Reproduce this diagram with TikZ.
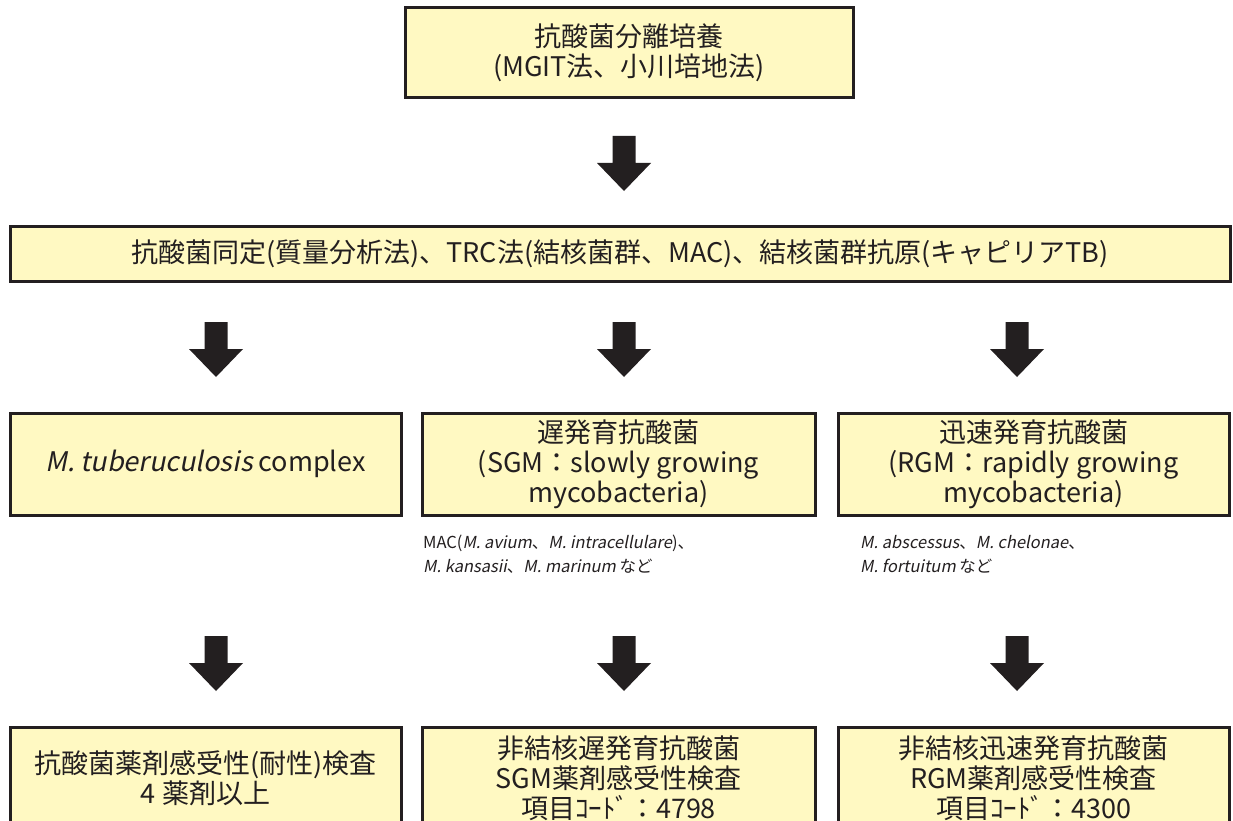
\documentclass[tikz,border=0pt]{standalone}
\usepackage{fontspec}
\setmainfont{Noto Sans CJK JP}
\newfontfamily\jpit{Noto Sans CJK JP}[FakeSlant=0.2]
\newcommand\spn[1]{{\jpit #1}}
\definecolor{boxfill}{RGB}{255,249,194}
\definecolor{ink}{RGB}{35,31,32}
\tikzset{
  flowbox/.style={draw=ink, line width=3pt, fill=boxfill, inner sep=0pt,
    align=center, text=ink, font=\fontsize{27}{30}\selectfont},
  note/.style={anchor=north west, inner sep=0pt, align=left, text=ink,
    font=\fontsize{16.5}{24}\selectfont},
  blockarrow/.pic={\fill[ink] (-11.5,0) -- (11.5,0) -- (11.5,27) -- (27,27)
    -- (0,55) -- (-27,27) -- (-11.5,27) -- cycle;}
}
\begin{document}
\begin{tikzpicture}[x=1pt,y=-1pt]
\useasboundingbox (0,0) rectangle (1233,821);
\clip (0,0) rectangle (1233,821);
% row 1
\node[flowbox, minimum width=448pt, minimum height=90pt] (culture) at (629,53)
  {抗酸菌分離培養\\(MGIT法、小川培地法)};
\pic (a1) at (624,136) {blockarrow};
% row 2
\node[flowbox, minimum width=1220pt, minimum height=55pt] (ident) at (620,253.5)
  {抗酸菌同定(質量分析法)、TRC法(結核菌群、MAC)、結核菌群抗原(キャピリアTB)};
\pic (a2) at (216,322) {blockarrow};
\pic (a3) at (624,322) {blockarrow};
\pic (a4) at (1017,322) {blockarrow};
% row 3
\node[flowbox, minimum width=391pt, minimum height=102pt] (mtb) at (205.5,464)
  {\spn{M. tuberuculosis} complex};
\node[flowbox, minimum width=393pt, minimum height=102pt] (sgm) at (618.5,464)
  {遅発育抗酸菌\\(SGM：slowly growing\\mycobacteria)};
\node[flowbox, minimum width=391pt, minimum height=102pt] (rgm) at (1033.5,464)
  {迅速発育抗酸菌\\(RGM：rapidly growing\\mycobacteria)};
\node[note] (sgmnote) at (423,535)
  {MAC(\spn{M. avium}、\spn{M. intracellulare})、\\\spn{M. kansasii}、\spn{M. marinum} など};
\node[note] (rgmnote) at (860,535)
  {\spn{M. abscessus}、\spn{M. chelonae}、\\\spn{M. fortuitum} など};
\pic (a5) at (216,636) {blockarrow};
\pic (a6) at (624,636) {blockarrow};
\pic (a7) at (1017,636) {blockarrow};
% row 4
\node[flowbox, minimum width=391pt, minimum height=102pt] (dst) at (205.5,778)
  {抗酸菌薬剤感受性(耐性)検査\\4 薬剤以上};
\node[flowbox, minimum width=393pt, minimum height=102pt] (sgmdst) at (618.5,778)
  {非結核遅発育抗酸菌\\SGM薬剤感受性検査\\項目ｺｰﾄﾞ：4798};
\node[flowbox, minimum width=391pt, minimum height=102pt] (rgmdst) at (1033.5,778)
  {非結核迅速発育抗酸菌\\RGM薬剤感受性検査\\項目ｺｰﾄﾞ：4300};
\end{tikzpicture}
\end{document}
